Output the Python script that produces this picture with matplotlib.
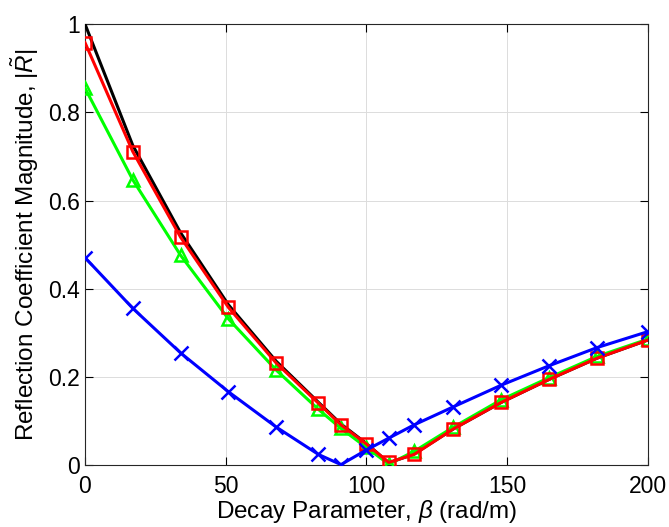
import matplotlib
matplotlib.use("Agg")
import matplotlib.pyplot as plt
from matplotlib.ticker import FuncFormatter

plt.rcParams["font.family"] = ["Liberation Sans", "DejaVu Sans"]
plt.rcParams["mathtext.fontset"] = "custom"
plt.rcParams["mathtext.rm"] = "Liberation Sans"
plt.rcParams["mathtext.it"] = "Liberation Sans:italic"

# Decay parameter samples (rad/m)
beta = [0, 17, 34, 51, 68, 83, 91, 100, 108, 117, 131, 148, 165, 182, 200]

# Reflection coefficient magnitude for each case
r_black = [1.000, 0.725, 0.527, 0.364, 0.236, 0.143, 0.094, 0.050, 0.006,
           0.026, 0.083, 0.143, 0.195, 0.243, 0.284]
r_red = [0.958, 0.711, 0.517, 0.358, 0.232, 0.141, 0.092, 0.049, 0.007,
         0.025, 0.083, 0.143, 0.195, 0.243, 0.284]
r_green = [0.855, 0.647, 0.476, 0.332, 0.216, 0.127, 0.084, 0.041, 0.003,
           0.032, 0.087, 0.149, 0.199, 0.247, 0.286]
r_blue = [0.471, 0.356, 0.255, 0.167, 0.087, 0.025, 0.002, 0.035, 0.062,
          0.092, 0.133, 0.182, 0.226, 0.267, 0.303]

fig = plt.figure(figsize=(6.69, 5.27), dpi=100)
ax = fig.add_axes([0.127, 0.1167, 0.841, 0.8378])

ax.plot(beta, r_black, color="black", lw=2.2, zorder=3)
ax.plot(beta, r_green, color=(0, 1, 0), lw=2.2, marker="^", ms=9,
        mfc="none", mew=1.8, zorder=4)
ax.plot(beta, r_red, color=(1, 0, 0), lw=2.2, marker="s", ms=8,
        mfc="none", mew=1.8, zorder=5)
ax.plot(beta, r_blue, color=(0, 0, 1), lw=2.2, marker="x", ms=10,
        mew=1.8, zorder=6)

ax.set_xlim(0, 200)
ax.set_ylim(0, 1)
ax.set_xticks([0, 50, 100, 150, 200])
ax.set_yticks([0, 0.2, 0.4, 0.6, 0.8, 1.0])
ax.yaxis.set_major_formatter(FuncFormatter(lambda v, p: f"{v:g}"))
ax.grid(True, color="#dcdcdc", lw=0.7)
ax.set_axisbelow(True)
ax.tick_params(direction="in", length=6, width=0.8, top=True, right=True,
               labelsize=16.5)
ax.tick_params(axis="x", pad=7)
ax.tick_params(axis="y", pad=3.5)
for s in ax.spines.values():
    s.set_linewidth(0.8)
    s.set_color("#262626")

ax.set_xlabel(r"Decay Parameter, $\beta$ (rad/m)", fontsize=17.5, labelpad=0)
ax.set_ylabel(r"Reflection Coefficient Magnitude, $|\tilde{R}|$", fontsize=17.5,
              labelpad=5)

fig.savefig("out.png", dpi=100)
